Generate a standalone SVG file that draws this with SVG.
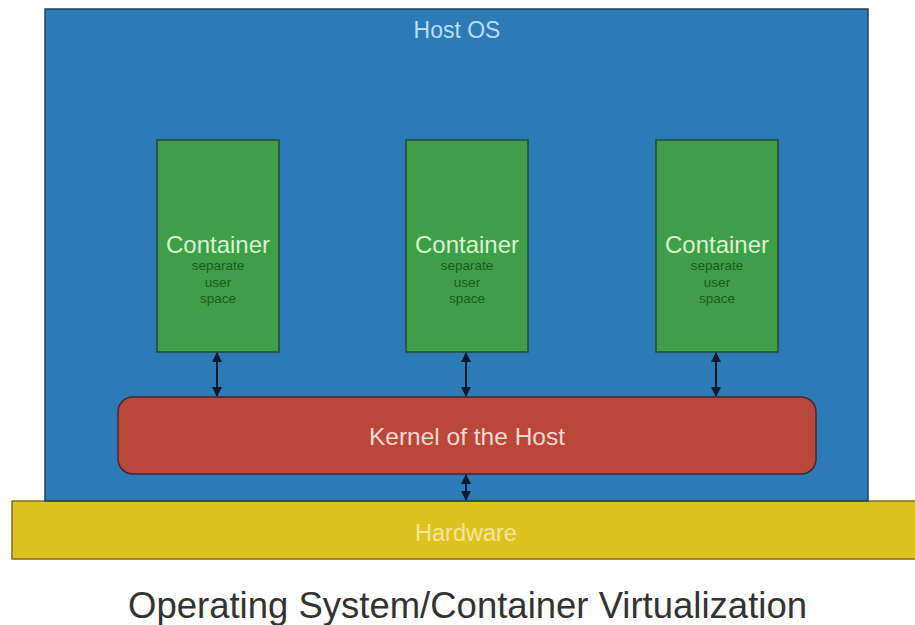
<svg xmlns="http://www.w3.org/2000/svg" width="915" height="625" viewBox="0 0 915 625">
  <defs>
    <marker id="ah" viewBox="0 0 10 10" refX="9" refY="5" markerWidth="5" markerHeight="5" orient="auto-start-reverse">
      <path d="M0,0 L10,5 L0,10 z" fill="#0d1a2e"/>
    </marker>
    <style>
      text { font-family: "Liberation Sans", Arial, sans-serif; text-anchor: middle; }
      .host { fill: #2c7bb7; stroke: #22405c; stroke-width: 1.5; }
      .cont { fill: #3f9f48; stroke: #1e4a3a; stroke-width: 1.5; }
      .kern { fill: #b9473a; stroke: #4a2530; stroke-width: 1.5; }
      .hw { fill: #dec21f; stroke: #7d6f22; stroke-width: 1.5; }
      .t-host { fill: #b9def4; font-size: 23px; }
      .t-cont { fill: #d6f4cf; font-size: 24px; }
      .t-sub { fill: #1a5a22; font-size: 13.5px; }
      .t-kern { fill: #f3d8cf; font-size: 24.5px; }
      .t-hw { fill: #f4e59a; font-size: 23.5px; }
      .t-title { fill: #333333; font-size: 36.5px; }
      .link { stroke: #0d1a2e; stroke-width: 2; fill: none; marker-start: url(#ah); marker-end: url(#ah); }
    </style>
  </defs>
  <rect width="915" height="625" fill="#ffffff"/>

  <g id="hardware">
    <rect class="hw" x="12" y="501" width="910" height="58"/>
    <text class="t-hw" x="466" y="541">Hardware</text>
  </g>

  <g id="host-os">
    <rect class="host" x="45" y="9" width="823" height="492"/>
    <text class="t-host" x="457" y="38">Host OS</text>
  </g>

  <g id="container-1">
    <rect class="cont" x="157" y="140" width="122" height="212"/>
    <text class="t-cont" x="218" y="253">Container</text>
    <text class="t-sub" x="218" y="270">separate</text>
    <text class="t-sub" x="218" y="287">user</text>
    <text class="t-sub" x="218" y="303">space</text>
  </g>

  <g id="container-2">
    <rect class="cont" x="406" y="140" width="122" height="212"/>
    <text class="t-cont" x="467" y="253">Container</text>
    <text class="t-sub" x="467" y="270">separate</text>
    <text class="t-sub" x="467" y="287">user</text>
    <text class="t-sub" x="467" y="303">space</text>
  </g>

  <g id="container-3">
    <rect class="cont" x="656" y="140" width="122" height="212"/>
    <text class="t-cont" x="717" y="253">Container</text>
    <text class="t-sub" x="717" y="270">separate</text>
    <text class="t-sub" x="717" y="287">user</text>
    <text class="t-sub" x="717" y="303">space</text>
  </g>

  <g id="kernel">
    <rect class="kern" x="118" y="397" width="698" height="77" rx="15" ry="15"/>
    <text class="t-kern" x="467" y="445">Kernel of the Host</text>
  </g>

  <g id="connectors">
    <line class="link" x1="217" y1="353" x2="217" y2="396"/>
    <line class="link" x1="466" y1="353" x2="466" y2="396"/>
    <line class="link" x1="716" y1="353" x2="716" y2="396"/>
    <line class="link" x1="466" y1="475" x2="466" y2="500"/>
  </g>

  <text class="t-title" x="467.5" y="618">Operating System/Container Virtualization</text>
</svg>
